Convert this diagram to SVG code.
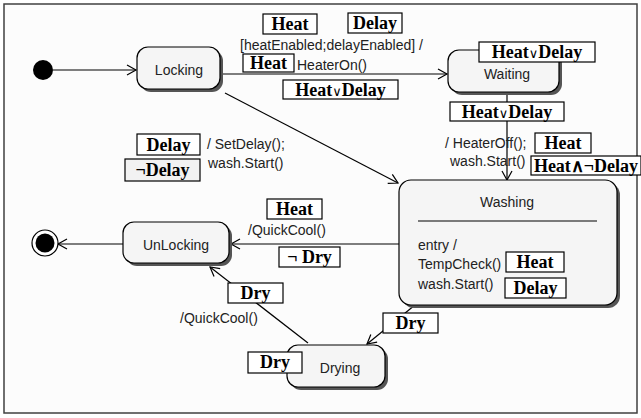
<svg xmlns="http://www.w3.org/2000/svg" width="641" height="418" viewBox="0 0 641 418">
<style>
.frame{fill:#fcfcfc;stroke:#404040;stroke-width:1.5}
.state{fill:#f5f5f5;stroke:#000;stroke-width:1.2}
.shadow{fill:#555}
.st{font-family:"Liberation Sans",Arial,sans-serif;font-size:14px;fill:#222}
.stc{font-family:"Liberation Sans",Arial,sans-serif;font-size:14px;fill:#222;text-anchor:middle}
.conn{stroke:#000;stroke-width:1.2;fill:none}
.lb{fill:#fff;stroke:#000;stroke-width:1.2}
.lbt{font-family:"Liberation Serif","Times New Roman",serif;font-size:18px;font-weight:bold;fill:#000;text-anchor:middle}
.or{font-family:"DejaVu Sans",sans-serif;font-weight:normal;font-size:13px}
</style>
<defs>
<marker id="arr" markerUnits="userSpaceOnUse" markerWidth="12" markerHeight="12" refX="10" refY="6" orient="auto">
<path d="M1,1 L10,6 L1,11" fill="none" stroke="#000" stroke-width="1.2"/>
</marker>
</defs>
<rect class="frame" x="4" y="4" width="633" height="409"/>

<g id="connectors">
<path class="conn" d="M53,70 L136,70" marker-end="url(#arr)"/>
<path class="conn" d="M220,74 L447,74" marker-end="url(#arr)"/>
<path class="conn" d="M507,92 L507,180" marker-end="url(#arr)"/>
<path class="conn" d="M225,93 L398,183" marker-end="url(#arr)"/>
<path class="conn" d="M399,244 L231,244" marker-end="url(#arr)"/>
<path class="conn" d="M123,244 L58,244" marker-end="url(#arr)"/>
<path class="conn" d="M415,305 L367,344" marker-end="url(#arr)"/>
<path class="conn" d="M308,343 L210,267" marker-end="url(#arr)"/>
</g>

<g id="initial">
<circle cx="43" cy="70" r="10" fill="#000"/>
</g>

<g id="final">
<circle cx="45" cy="243" r="13" fill="#fff" stroke="#000" stroke-width="1.2"/>
<circle cx="45" cy="243" r="9.5" fill="#000"/>
</g>

<g id="locking">
<rect class="shadow" x="140" y="50" width="83" height="42" rx="11"/>
<rect class="state" x="137" y="47" width="83" height="42" rx="11"/>
<text class="stc" x="179" y="75">Locking</text>
</g>

<g id="waiting">
<rect class="shadow" x="451" y="53" width="111" height="42" rx="11"/>
<rect class="state" x="448" y="50" width="111" height="42" rx="11"/>
<text class="stc" x="507" y="79">Waiting</text>
</g>

<g id="washing">
<rect class="shadow" x="402" y="183" width="218" height="125" rx="12"/>
<rect class="state" x="399" y="180" width="218" height="125" rx="12"/>
<text class="stc" x="507" y="207">Washing</text>
<line x1="418" y1="221" x2="597" y2="221" stroke="#000" stroke-width="1.2"/>
<text class="st" x="418" y="250">entry /</text>
<text class="st" x="418" y="269">TempCheck()</text>
<text class="st" x="418" y="289">wash.Start()</text>
</g>

<g id="unlocking">
<rect class="shadow" x="126" y="225" width="106" height="41" rx="11"/>
<rect class="state" x="123" y="222" width="106" height="41" rx="11"/>
<text class="stc" x="176" y="250">UnLocking</text>
</g>

<g id="drying">
<rect class="shadow" x="290" y="348" width="98" height="42" rx="11"/>
<rect class="state" x="287" y="345" width="98" height="42" rx="11"/>
<text class="stc" x="340" y="373">Drying</text>
</g>

<g id="labels">
<text class="st" x="240" y="50">[heatEnabled;delayEnabled] /</text>
<text class="st" x="297" y="70">HeaterOn()</text>
<text class="st" x="207" y="149">/ SetDelay();</text>
<text class="st" x="208" y="168">wash.Start()</text>
<text class="st" x="445" y="148">/ HeaterOff();</text>
<text class="st" x="450" y="166">wash.Start()</text>
<text class="st" x="248" y="235">/QuickCool()</text>
<text class="st" x="180" y="323">/QuickCool()</text>

<rect class="lb" x="263" y="14" width="54" height="20"/><text class="lbt" x="290" y="30">Heat</text>
<rect class="lb" x="348" y="13" width="54" height="20"/><text class="lbt" x="375" y="29">Delay</text>
<rect class="lb" x="243" y="54" width="51" height="18"/><text class="lbt" x="268.5" y="69">Heat</text>
<rect class="lb" x="283" y="80" width="115" height="19"/><text class="lbt" x="340.5" y="96">Heat<tspan class="or">∨</tspan>Delay</text>
<rect class="lb" x="479" y="42" width="116" height="20"/><text class="lbt" x="537" y="58">Heat<tspan class="or">∨</tspan>Delay</text>
<rect class="lb" x="450" y="102" width="114" height="19"/><text class="lbt" x="507" y="118">Heat<tspan class="or">∨</tspan>Delay</text>
<rect class="lb" x="535" y="133" width="56" height="20"/><text class="lbt" x="563" y="149">Heat</text>
<rect class="lb" x="531" y="156" width="110" height="19"/><text class="lbt" x="586" y="172">Heat∧¬Delay</text>
<rect class="lb" x="137" y="134" width="63" height="21"/><text class="lbt" x="168.5" y="151">Delay</text>
<rect class="lb" x="125" y="159" width="75" height="22" style="fill:#f2f2f2"/><text class="lbt" x="162.5" y="176">¬Delay</text>
<rect class="lb" x="267" y="199" width="55" height="20"/><text class="lbt" x="294.5" y="215">Heat</text>
<rect class="lb" x="279" y="247" width="61" height="20"/><text class="lbt" x="309.5" y="263">¬ Dry</text>
<rect class="lb" x="506" y="252" width="58" height="20"/><text class="lbt" x="535" y="268">Heat</text>
<rect class="lb" x="505" y="278" width="61" height="20"/><text class="lbt" x="535.5" y="294">Delay</text>
<rect class="lb" x="383" y="313" width="55" height="20"/><text class="lbt" x="410.5" y="329">Dry</text>
<rect class="lb" x="228" y="283" width="55" height="20"/><text class="lbt" x="255.5" y="299">Dry</text>
<rect class="lb" x="248" y="352" width="54" height="21"/><text class="lbt" x="275" y="368">Dry</text>
</g>
</svg>
